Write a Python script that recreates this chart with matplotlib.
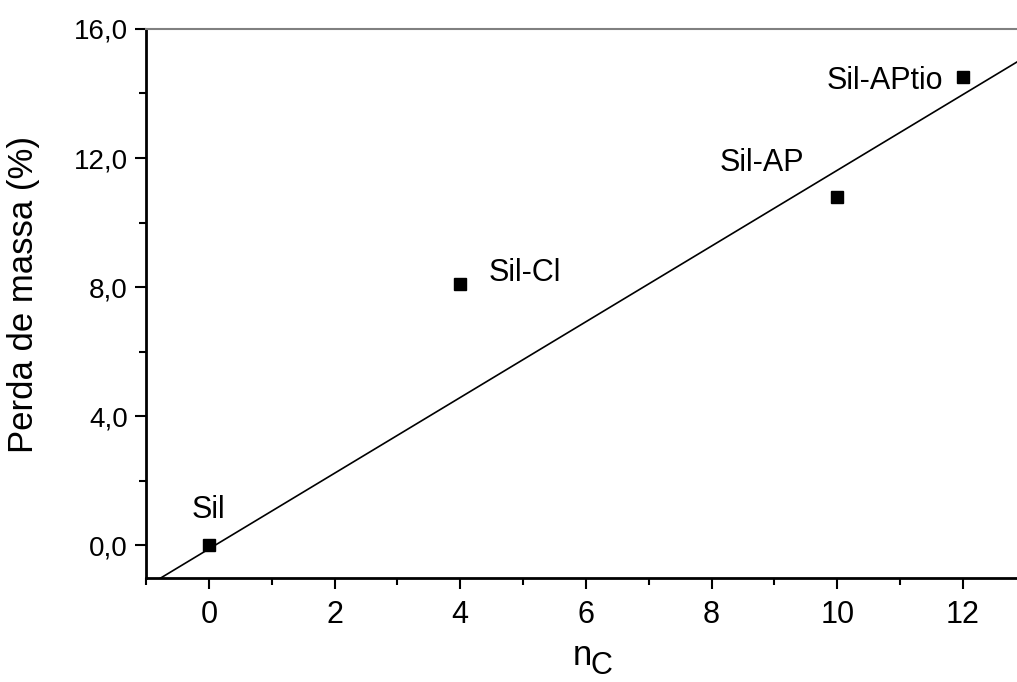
import matplotlib
matplotlib.use('Agg')
import matplotlib.pyplot as plt
from matplotlib.ticker import MultipleLocator, FuncFormatter

plt.rcParams['font.family'] = ['Liberation Sans', 'DejaVu Sans']

amostras = ['Sil', 'Sil-Cl', 'Sil-AP', 'Sil-APtio']
n_c = [0, 4, 10, 12]
perda = [0.0, 8.1, 10.8, 14.5]
# reta ajustada (inclinação, intercepto)
ajuste = (1.174, -0.12)
pos_rotulos = [(0.0, 1.1), (4.45, 8.45), (8.8, 11.85), (11.68, 14.4)]
alinh_rotulos = ['center', 'left', 'center', 'right']

fig = plt.figure(figsize=(10.17, 6.82), dpi=100)
ax = fig.add_axes([0.1436, 0.1525, 0.8564, 0.805])

xlim = (-1.0, 12.86)
ax.plot(n_c, perda, 's', color='black', markersize=9)
xs = [xlim[0], xlim[1]]
ax.plot(xs, [ajuste[0] * x + ajuste[1] for x in xs], color='black', lw=1.2)

for nome, (tx, ty), ha in zip(amostras, pos_rotulos, alinh_rotulos):
    ax.text(tx, ty, nome, fontsize=22, ha=ha, va='center')

ax.set_xlim(*xlim)
ax.set_ylim(-1.02, 16.0)
ax.xaxis.set_major_locator(MultipleLocator(2))
ax.xaxis.set_minor_locator(MultipleLocator(1))
ax.yaxis.set_major_locator(MultipleLocator(4))
ax.yaxis.set_minor_locator(MultipleLocator(2))
ax.yaxis.set_major_formatter(FuncFormatter(lambda v, p: f"{v:.1f}".replace('.', ',')))

ax.spines['right'].set_visible(False)
ax.spines['top'].set_color('#808080')
ax.spines['top'].set_linewidth(1.5)
ax.spines['left'].set_linewidth(2)
ax.spines['bottom'].set_linewidth(2)
ax.tick_params(which='both', direction='out', width=1.5)
ax.tick_params(which='major', length=8)
ax.tick_params(which='minor', length=5)
ax.tick_params(axis='y', labelsize=20, pad=5)
ax.tick_params(axis='x', labelsize=22, pad=8)

ax.set_ylabel('Perda de massa (%)', fontsize=25)
ax.yaxis.set_label_coords(-0.122, 0.517)

# rótulo do eixo x: n com índice C
fig.text(573 / 1017, 1 - 665 / 682, 'n', fontsize=25, va='baseline', ha='left')
fig.text(591 / 1017, 1 - 674 / 682, 'C', fontsize=22, va='baseline', ha='left')

fig.savefig('out.png', dpi=100)
